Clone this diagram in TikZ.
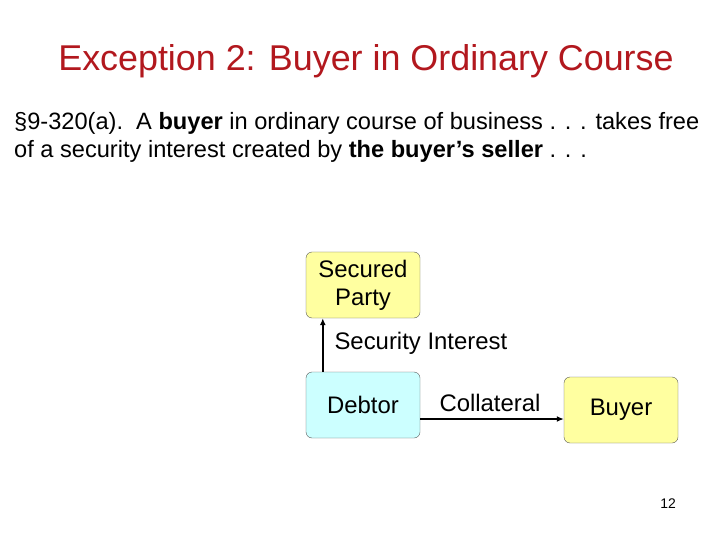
\documentclass[tikz,border=0pt]{standalone}
\usepackage{fontspec}
\setmainfont{Liberation Sans}
\usetikzlibrary{arrows.meta}
\definecolor{titlered}{RGB}{178,24,30}
\definecolor{boxyellow}{RGB}{255,255,160}
\definecolor{boxcyan}{RGB}{204,255,255}
\tikzset{
	party/.style={draw=gray!70!black,rounded corners=6bp,minimum width=114bp,minimum height=66bp,align=center,inner sep=2bp,font=\fontsize{24}{28}\selectfont},
	ypart/.style={party,fill=boxyellow},
	cpart/.style={party,fill=boxcyan},
	flow/.style={-{Latex[length=7bp,width=6bp]},line width=1.5pt}
}

\begin{document}
\begin{tikzpicture}[x=1bp,y=-1bp]
	\useasboundingbox (0,0) rectangle (720,540);
	\node [text=titlered,font=\fontsize{36}{40}\selectfont] (title) at (366,61) {Exception 2: Buyer in Ordinary Course};
	\node [anchor=base west,font=\fontsize{23.7}{29}\selectfont,align=left,inner sep=0pt] (rule) at (14,158)
		{\S9-320(a).\ \ A \textbf{buyer} in ordinary course of business . . . takes free\\
		of a security interest created by \textbf{the buyer’s seller} . . .};

	\node [ypart] (secured) at (363,285) {Secured\\Party};
	\node [cpart] (debtor) at (363,405) {Debtor};
	\node [ypart] (buyer) at (621,410) {Buyer};

	\draw [flow] (debtor.north west) ++(17,0) coordinate (si) -- (si |- secured.south);
	\draw [flow] (debtor.east |- 0,419) -- (buyer.west |- 0,419);
	\node [anchor=west,font=\fontsize{24}{28}\selectfont] (silabel) at (331,343) {Security Interest};
	\node [font=\fontsize{24}{28}\selectfont] (colabel) at (490,403) {Collateral};

	\node [font=\fontsize{14}{16}\selectfont] (page) at (668,504) {12};
\end{tikzpicture}
\end{document}
